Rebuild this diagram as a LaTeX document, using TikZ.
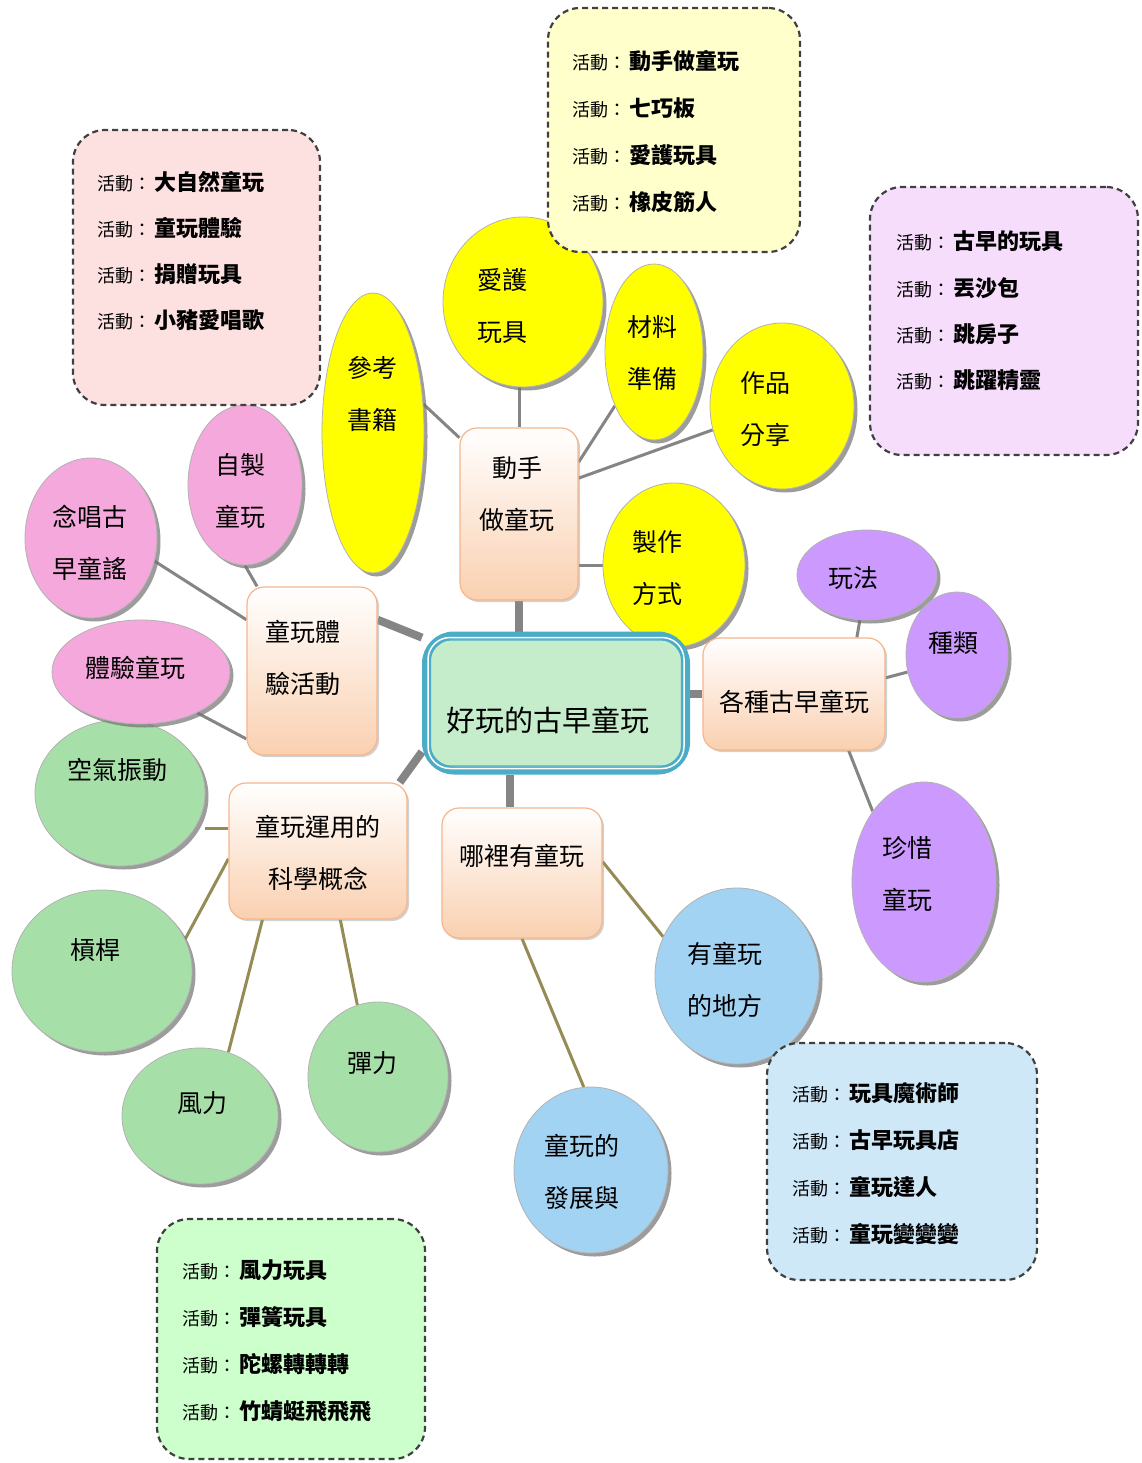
\documentclass[tikz,border=0pt]{standalone}
\usepackage{fontspec}
\setmainfont{Noto Sans CJK TC}
\usetikzlibrary{shapes.geometric,shadows,calc}
\pgfdeclarelayer{bg}
\pgfsetlayers{bg,main}
\definecolor{cYel}{HTML}{FFFF00}
\definecolor{cPink}{HTML}{F5A8DC}
\definecolor{cGreen}{HTML}{A7DFA9}
\definecolor{cBlue}{HTML}{A3D3F2}
\definecolor{cPurple}{HTML}{CC99FF}
\definecolor{cPeach}{HTML}{FAD0B0}
\definecolor{cPeachLine}{HTML}{F5B68C}
\definecolor{cTeal}{HTML}{4BACC6}
\definecolor{cCenter}{HTML}{C6EDCB}
\definecolor{cDash}{HTML}{404040}
\definecolor{cGray}{HTML}{858585}
\definecolor{cOlive}{HTML}{958B55}
\definecolor{bYel}{HTML}{FFFFCC}
\definecolor{bPink}{HTML}{FDE1E1}
\definecolor{bPurple}{HTML}{F6DDFC}
\definecolor{bBlue}{HTML}{CFE8F8}
\definecolor{bGreen}{HTML}{CCFFCC}
\newcommand\actlbl{{\fontsize{18}{18}\selectfont\mdseries 活動：}\hspace{3pt}}
\begin{document}
\begin{tikzpicture}[x=1pt,y=-1pt,
  bub/.style={ellipse,inner sep=0pt,draw=black!30,line width=0.8pt,
    drop shadow={shadow xshift=3.5pt,shadow yshift=-3.5pt,fill=black!55,opacity=0.7}},
  topic/.style={rectangle,rounded corners=17pt,inner sep=0pt,draw=cPeachLine,line width=1.2pt,
    top color=white,bottom color=cPeach,
    drop shadow={shadow xshift=2pt,shadow yshift=-2pt,fill=black!40,opacity=0.45}},
  lbl/.style={align=center,inner sep=0pt,font=\fontsize{25}{52}\selectfont},
  act/.style={rectangle,rounded corners=32pt,draw=cDash,line width=2.2pt,dash pattern=on 6pt off 4pt,inner sep=0pt},
  acttxt/.style={anchor=base west,inner sep=0pt,font=\fontsize{22}{26}\selectfont\bfseries},
  hubline/.style={cGray,line width=8pt},
  twig/.style={cGray,line width=3pt},
  oli/.style={cOlive,line width=3pt}
]
\useasboundingbox (0,0) rectangle (1141,1463);

% green bubbles
\node[bub,fill=cGreen,minimum width=170pt,minimum height=146pt] (kongqi) at (120,793) {};
\node[bub,fill=cGreen,minimum width=180pt,minimum height=162pt] (ganggan) at (102,971) {};
\node[bub,fill=cGreen,minimum width=156pt,minimum height=136pt] (fengli) at (200,1116) {};
\node[bub,fill=cGreen,minimum width=140pt,minimum height=150pt] (tanli) at (378,1077) {};
% blue bubbles
\node[bub,fill=cBlue,minimum width=164pt,minimum height=176pt] (youwan) at (737,976) {};
\node[bub,fill=cBlue,minimum width=154pt,minimum height=166pt] (fazhan) at (591,1170) {};
% purple bubbles
\node[bub,fill=cPurple,minimum width=140pt,minimum height=90pt] (wanfa) at (867,575) {};
\node[bub,fill=cPurple,minimum width=102pt,minimum height=126pt] (zhonglei) at (957,655) {};
\node[bub,fill=cPurple,minimum width=144pt,minimum height=200pt] (zhenxi) at (924,882) {};
% yellow bubbles
\node[bub,fill=cYel,minimum width=102pt,minimum height=280pt] (cankao) at (373,433) {};
\node[bub,fill=cYel,minimum width=160pt,minimum height=170pt] (aihu) at (523,302) {};
\node[bub,fill=cYel,minimum width=98pt,minimum height=176pt] (cailiao) at (654,352) {};
\node[bub,fill=cYel,minimum width=144pt,minimum height=166pt] (zuopin) at (782,406) {};
\node[bub,fill=cYel,minimum width=142pt,minimum height=164pt] (zhizuo) at (674,565) {};
% pink bubbles
\node[bub,fill=cPink,minimum width=114pt,minimum height=160pt] (zizhi) at (245,485) {};
\node[bub,fill=cPink,minimum width=132pt,minimum height=160pt] (nianchang) at (91,538) {};
\node[bub,fill=cPink,minimum width=178pt,minimum height=104pt] (tiyanwan) at (141,672) {};

% topic boxes
\node[topic,minimum width=118pt,minimum height=172pt] (dongshou) at (519,514) {};
\node[topic,minimum width=130pt,minimum height=168pt] (tiyan) at (312,671) {};
\node[topic,minimum width=182pt,minimum height=112pt] (gezhong) at (794,694) {};
\node[topic,minimum width=178pt,minimum height=136pt] (kexue) at (318,851) {};
\node[topic,minimum width=160pt,minimum height=130pt] (nali) at (522,873) {};

% central box
\node[rectangle,rounded corners=28pt,draw=cTeal,line width=8pt,fill=cCenter,
  minimum width=260pt,minimum height=135pt] (root) at (556,703) {};
\draw[white,line width=1.5pt,rounded corners=22pt]
  ($(root.south west)+(6,-6)$) rectangle ($(root.north east)+(-6,6)$);
\draw[cTeal,line width=1.2pt,rounded corners=20pt]
  ($(root.south west)+(8.5,-8.5)$) rectangle ($(root.north east)+(-8.5,8.5)$);

% connectors
\begin{pgfonlayer}{bg}
\fill[white] (0,0) rectangle (1141,1463);
\draw[hubline] (dongshou.south) -- (dongshou.south |- root.north);
\draw[hubline] (tiyan.38) -- (root.154);
\draw[hubline] (gezhong.west) -- (root.east |- gezhong.west);
\draw[hubline] (kexue.40) -- (root.200);
\draw[hubline] (nali.100) -- (nali.100 |- root.south);
\draw[twig] (dongshou.128) -- (cankao.30);
\draw[twig] (dongshou.north) -- (dongshou.north |- aihu.south);
\draw[twig] (dongshou.41) -- (cailiao.234);
\draw[twig] (dongshou.31) -- (zuopin.199);
\draw[twig] (zhizuo.west -| dongshou.east) -- (zhizuo.west);
\draw[twig] (tiyan.123) -- (zizhi.south);
\draw[twig] (tiyan.142) -- (nianchang.-20);
\draw[twig] (tiyan.226) -- (tiyanwan.-36);
\draw[twig] (gezhong.42) -- (wanfa.261);
\draw[twig] (gezhong.10) -- (zhonglei.199);
\draw[twig] (gezhong.-46) -- (zhenxi.126);
\draw[oli] (kexue.166 -| kongqi.east) -- (kexue.166);
\draw[oli] (kexue.185) -- (ganggan.21);
\draw[oli] (kexue.231) -- (fengli.66);
\draw[oli] (kexue.-72) -- (tanli.106);
\draw[oli] (nali.8) -- (youwan.152);
\draw[oli] (nali.south) -- (fazhan.95);
\end{pgfonlayer}

% labels
\node[lbl] (t-cankao) at (372,394) {參考\\書籍};
\node[lbl] (t-aihu) at (502,306) {愛護\\玩具};
\node[lbl] (t-cailiao) at (652,353) {材料\\準備};
\node[lbl] (t-zuopin) at (765,409) {作品\\分享};
\node[lbl] (t-zhizuo) at (657,568) {製作\\方式};
\node[lbl] (t-zizhi) at (240,491) {自製\\童玩};
\node[lbl] (t-nianchang) at (90,543) {念唱古\\早童謠};
\node[lbl] (t-tiyanwan) at (135,668) {體驗童玩};
\node[lbl] (t-kongqi) at (117,770) {空氣振動};
\node[lbl] (t-ganggan) at (95,950) {槓桿};
\node[lbl] (t-fengli) at (202,1103) {風力};
\node[lbl] (t-tanli) at (372,1063) {彈力};
\node[lbl] (t-youwan) at (725,980) {有童玩\\的地方};
\node[lbl] (t-fazhan) at (582,1172) {童玩的\\發展與};
\node[lbl] (t-wanfa) at (853,578) {玩法};
\node[lbl] (t-zhonglei) at (953,643) {種類};
\node[lbl] (t-zhenxi) at (907,874) {珍惜\\童玩};
\node[lbl] (t-dongshou) at (517,494) {動手\\做童玩};
\node[lbl] (t-tiyan) at (303,658) {童玩體\\驗活動};
\node[lbl] (t-gezhong) at (794,702) {各種古早童玩};
\node[lbl] (t-kexue) at (318,853) {童玩運用的\\科學概念};
\node[lbl] (t-nali) at (522,856) {哪裡有童玩};
\node[lbl,font=\fontsize{29}{34}\selectfont] (t-root) at (548,720) {好玩的古早童玩};

% activity boxes
\node[act,fill=bYel,minimum width=252pt,minimum height=244pt] (actY) at (674,130) {};
\node[act,fill=bPink,minimum width=247pt,minimum height=275pt] (actP) at (196.5,267.5) {};
\node[act,fill=bPurple,minimum width=268pt,minimum height=268pt] (actU) at (1004,321) {};
\node[act,fill=bBlue,minimum width=270pt,minimum height=237pt] (actB) at (902,1161.5) {};
\node[act,fill=bGreen,minimum width=268pt,minimum height=240pt] (actG) at (291,1339) {};

\foreach \t [count=\i] in {動手做童玩,七巧板,愛護玩具,橡皮筋人}
  \node[acttxt] (ay\i) at ({572},{70+47*(\i-1)}) {\actlbl\t};
\foreach \t [count=\i] in {大自然童玩,童玩體驗,捐贈玩具,小豬愛唱歌}
  \node[acttxt] (ap\i) at ({97},{191+45.7*(\i-1)}) {\actlbl\t};
\foreach \t [count=\i] in {古早的玩具,丟沙包,跳房子,跳躍精靈}
  \node[acttxt] (au\i) at ({896},{250+46*(\i-1)}) {\actlbl\t};
\foreach \t [count=\i] in {玩具魔術師,古早玩具店,童玩達人,童玩變變變}
  \node[acttxt] (ab\i) at ({792},{1101+47*(\i-1)}) {\actlbl\t};
\foreach \t [count=\i] in {風力玩具,彈簧玩具,陀螺轉轉轉,竹蜻蜓飛飛飛}
  \node[acttxt] (ag\i) at ({182},{1278+47*(\i-1)}) {\actlbl\t};
\end{tikzpicture}
\end{document}
